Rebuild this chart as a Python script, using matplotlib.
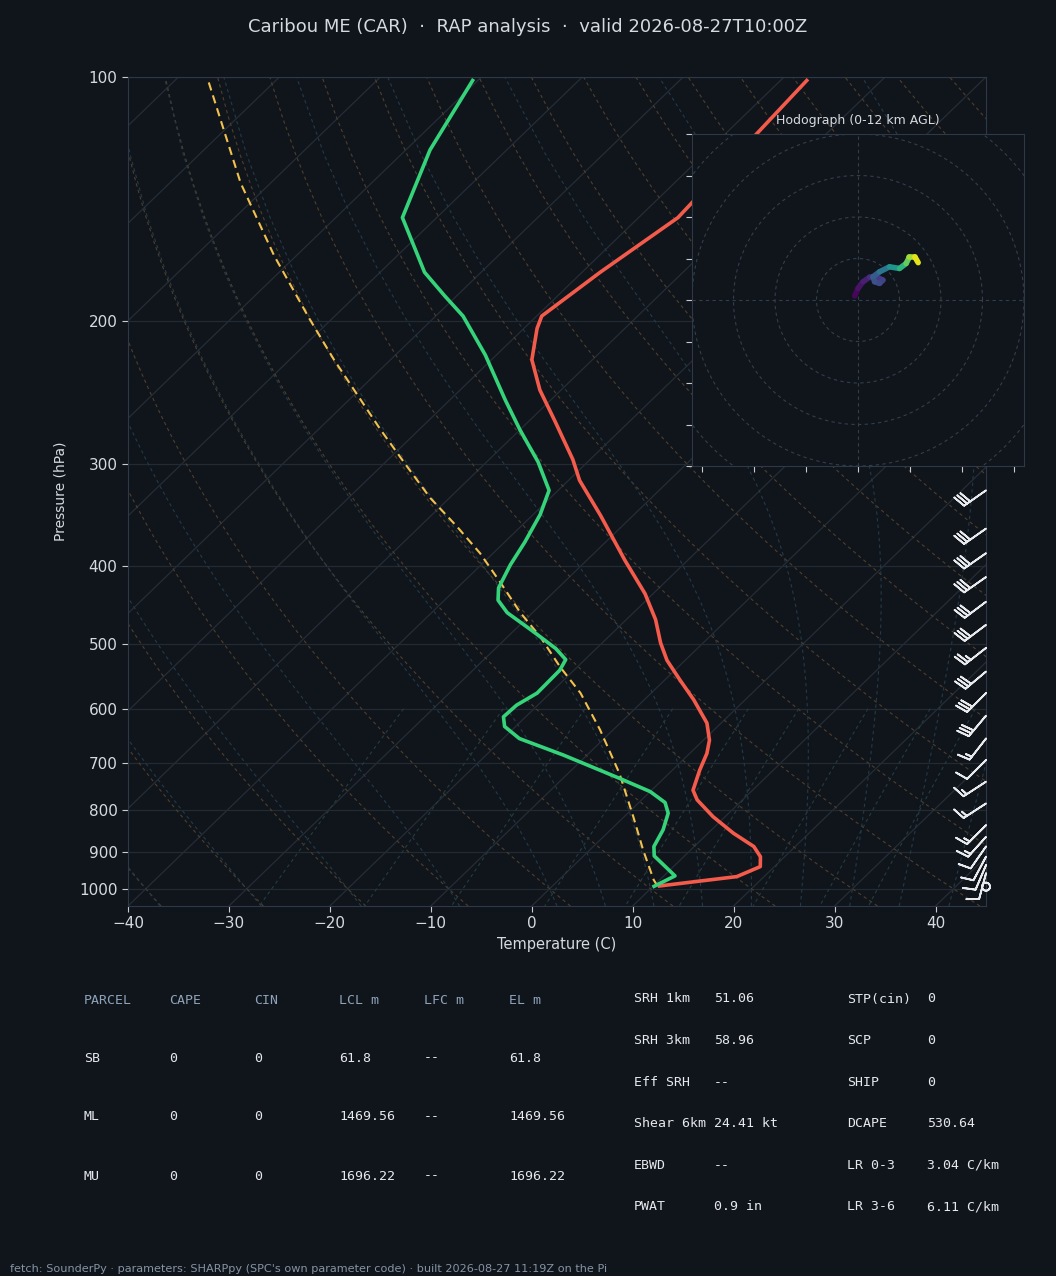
import numpy as np
import matplotlib
matplotlib.use('Agg')
import matplotlib.pyplot as plt
from matplotlib.collections import LineCollection
from matplotlib.ticker import FixedLocator, FixedFormatter, NullFormatter

plt.rcParams['font.family'] = 'DejaVu Sans'

BG = '#10151c'
SPINE = '#2e3946'
TXT = '#d6dae0'
HEAD = '#8ea2b8'

# ---- sounding ----
temp_p = [992, 966, 939, 913, 887, 854, 815, 777, 756, 714, 681, 656, 625, 585, 553,
          523, 498, 466, 433, 394, 347, 314, 296, 265, 243, 223, 204, 197, 174, 149, 101]
temp_c = [10.6, 17.3, 18.6, 17.6, 15.9, 12.5, 8.8, 5.5, 4.1, 2.7, 1.7, 0.6, -1.4, -5.1, -8.5,
          -11.8, -14.2, -17.1, -20.8, -26.2, -33.2, -38.9, -41.7, -47.5, -52.1, -56.0, -58.7,
          -59.5, -58.2, -56.1, -57.4]

dewp_p = [993, 964, 911, 887, 846, 807, 783, 759, 731, 684, 653, 631, 614, 594, 574, 538,
          522, 506, 482, 457, 441, 426, 399, 374, 346, 323, 298, 272, 250, 220, 197, 186,
          174, 149, 123, 101]
dewp_c = [10.1, 11.1, 7.0, 6.0, 5.2, 4.0, 2.6, 0.0, -4.4, -12.4, -18.4, -21.1, -22.2, -22.1,
          -21.3, -21.4, -21.9, -24.0, -28.0, -32.5, -34.7, -35.9, -37.1, -38.0, -39.3, -40.9,
          -44.9, -50.0, -54.5, -61.1, -67.3, -71.2, -75.6, -83.4, -87.6, -90.5]

parcel_p = [992, 975, 896, 815, 721, 637, 574, 533, 489, 457, 420, 386, 358, 330, 300, 272,
            223, 199, 166, 135, 101]
parcel_c = [10.4, 9.4, 5.3, 0.9, -4.9, -11.3, -17.0, -21.7, -26.8, -31.2, -36.2, -41.3,
            -46.3, -51.9, -57.8, -63.8, -75.6, -82.1, -92.2, -103.0, -116.7]

# wind barbs (kt, deg from)
barb_p = [994, 957, 935, 913, 887, 863, 835, 785, 738, 694, 653, 612, 574, 540, 505, 473,
          443, 413, 386, 360, 323, 290, 255]
barb_spd = [0, 10, 10, 10, 10, 15, 15, 15, 15, 10, 15, 30, 30, 30, 25, 30, 30, 30, 30, 30,
            30, 30, 30]
barb_dir = [0, 195, 203, 208, 215, 222, 225, 237, 237, 225, 218, 220, 225, 230, 232, 233,
            233, 235, 235, 235, 235, 240, 240]

# hodograph 0-12 km
hodo_u = [-0.8, 0.0, 1.2, 2.8, 4.4, 6.0, 5.2, 4.0, 3.6, 5.2, 7.6, 10.0, 11.6, 12.4, 13.7, 14.5]
hodo_v = [1.0, 2.8, 4.4, 5.5, 5.6, 4.8, 4.0, 4.4, 5.6, 6.8, 8.0, 7.6, 8.8, 10.4, 10.4, 9.0]
hodo_z = [0.0, 0.4, 0.8, 1.3, 1.8, 2.2, 2.5, 2.8, 3.1, 3.8, 5.5, 7.0, 8.5, 9.8, 11.0, 12.0]

# parameter table
parcel_names = ['SB', 'ML', 'MU']
parcel_cols = ['PARCEL', 'CAPE', 'CIN', 'LCL m', 'LFC m', 'EL m']
parcel_cape = ['0', '0', '0']
parcel_cin = ['0', '0', '0']
parcel_lcl = ['61.8', '1469.56', '1696.22']
parcel_lfc = ['--', '--', '--']
parcel_el = ['61.8', '1469.56', '1696.22']
kin_names = ['SRH 1km', 'SRH 3km', 'Eff SRH', 'Shear 6km', 'EBWD', 'PWAT']
kin_vals = ['51.06', '58.96', '--', '24.41 kt', '--', '0.9 in']
comp_names = ['STP(cin)', 'SCP', 'SHIP', 'DCAPE', 'LR 0-3', 'LR 3-6']
comp_vals = ['0', '0', '0', '530.64', '3.04 C/km', '6.11 C/km']

title = 'Caribou ME (CAR)  \u00b7  RAP analysis  \u00b7  valid 2026-08-27T10:00Z'
footer = ("fetch: SounderPy \u00b7 parameters: SHARPpy (SPC's own parameter code) \u00b7 "
          "built 2026-08-27 11:19Z on the Pi")

P_BOT, P_TOP = 1050.0, 100.0
X_MIN, X_MAX = -40.0, 45.0


def skew(t, p):
    t = np.asarray(t, float)
    p = np.asarray(p, float)
    return t + (X_MAX - X_MIN) * np.log10(P_BOT / p) / np.log10(P_BOT / P_TOP)


def moist_adiabats(t0_c, p_hpa):
    # integrate pseudo-adiabatic lapse rate from 1000 hPa (RK4)
    rd, cp, lv, eps = 287.04, 1005.7, 2.501e6, 0.622

    def dtdp(t, p):
        es = 611.2 * np.exp(17.67 * (t - 273.15) / (t - 29.65))
        rs = eps * es / (p - es)
        return (rd * t + lv * rs) / p / (cp + lv * lv * rs * eps / (rd * t * t))

    out = np.zeros((len(t0_c), len(p_hpa)))
    for j, pt in enumerate(p_hpa):
        t = np.asarray(t0_c, float) + 273.15
        ps = np.linspace(100000.0, pt * 100.0, 60)
        for a, b in zip(ps[:-1], ps[1:]):
            h = b - a
            k1 = dtdp(t, a)
            k2 = dtdp(t + 0.5 * h * k1, a + 0.5 * h)
            k3 = dtdp(t + 0.5 * h * k2, a + 0.5 * h)
            k4 = dtdp(t + h * k3, b)
            t = t + h * (k1 + 2 * k2 + 2 * k3 + k4) / 6.0
        out[:, j] = t - 273.15
    return out


fig = plt.figure(figsize=(10.56, 12.76), dpi=100, facecolor=BG)

ax = fig.add_axes([128 / 1056, 370 / 1276, 858 / 1056, 829 / 1276], facecolor=BG)
ax.set_yscale('log')
ax.set_ylim(P_BOT, P_TOP)
ax.set_xlim(X_MIN, X_MAX)

# background: isotherms, isobars, adiabats, mixing lines
for t in np.arange(-130, 50, 10):
    ax.plot(skew([t, t], [P_BOT, P_TOP]), [P_BOT, P_TOP], color='#262d36', lw=0.9, zorder=1)
for p in range(100, 1001, 100):
    ax.axhline(p, color='#222a33', lw=0.9, zorder=1)

pp = np.linspace(P_BOT, P_TOP, 80)
for t0 in np.arange(-40, 246, 10):
    tt = (t0 + 273.15) * (pp / 1000.0) ** 0.2857 - 273.15
    ax.plot(skew(tt, pp), pp, color='#4f3f2b', lw=0.8, ls=(0, (3, 3)), zorder=1)

moist_t0 = np.concatenate((np.arange(-40, 0, 10), np.arange(0, 46, 5)))
pm = np.linspace(P_BOT, P_TOP, 40)
tm = moist_adiabats(moist_t0, pm)
for row in tm:
    ax.plot(skew(row, pm), pm, color='#243a46', lw=0.8, ls=(0, (3, 3)), zorder=1)

pw = np.linspace(600, P_BOT, 20)
for w in [0.0004, 0.001, 0.002, 0.004, 0.007, 0.01, 0.016, 0.024, 0.032]:
    e = pw * w / (0.622 + w)
    le = np.log(e / 6.112)
    td = 243.5 * le / (17.67 - le)
    ax.plot(skew(td, pw), pw, color='#243d3f', lw=0.8, ls=(0, (3, 3)), zorder=1)

# profiles
ax.plot(skew(parcel_c, parcel_p), parcel_p, color='#f2c14e', lw=1.5, ls=(0, (4, 2.5)), zorder=4)
ax.plot(skew(temp_c, temp_p), temp_p, color='#f45b4b', lw=2.6, zorder=5)
ax.plot(skew(dewp_c, dewp_p), dewp_p, color='#35d47a', lw=2.6, zorder=5)

# barbs on the right edge
spd = np.asarray(barb_spd, float)
rad = np.deg2rad(barb_dir)
bu = -spd * np.sin(rad)
bv = -spd * np.cos(rad)
ax.barbs(np.full(len(barb_p), X_MAX), barb_p, bu, bv, color='#e8eaee', length=6.2,
         linewidth=1.3, sizes=dict(height=0.46, spacing=0.14), clip_on=False, zorder=6)

ax.xaxis.set_major_locator(FixedLocator(np.arange(-40, 41, 10)))
ax.yaxis.set_major_locator(FixedLocator(np.arange(100, 1001, 100)))
ax.yaxis.set_major_formatter(FixedFormatter([str(v) for v in range(100, 1001, 100)]))
ax.yaxis.set_minor_locator(FixedLocator([]))
ax.yaxis.set_minor_formatter(NullFormatter())
ax.tick_params(colors=TXT, labelsize=11, length=4, color='#c8ccd2')
for s in ax.spines.values():
    s.set_color(SPINE)
ax.set_xlabel('Temperature (C)', color=TXT, fontsize=10.5, labelpad=4)
ax.set_ylabel('Pressure (hPa)', color=TXT, fontsize=10, labelpad=8)

# hodograph inset
hx = fig.add_axes([692 / 1056, 810 / 1276, 332 / 1056, 332 / 1276], facecolor=BG)
hx.set_xlim(-40, 40)
hx.set_ylim(-40, 40)
th = np.linspace(0, 2 * np.pi, 200)
for r in range(10, 81, 10):
    hx.plot(r * np.cos(th), r * np.sin(th), color='#333e4a', lw=0.8, ls=(0, (3, 3)), zorder=1)
hx.axhline(0, color='#333e4a', lw=0.8, ls=(0, (3, 3)), zorder=1)
hx.axvline(0, color='#333e4a', lw=0.8, ls=(0, (3, 3)), zorder=1)
pts = np.column_stack([hodo_u, hodo_v]).reshape(-1, 1, 2)
segs = np.concatenate([pts[:-1], pts[1:]], axis=1)
zmid = 0.5 * (np.asarray(hodo_z[:-1]) + np.asarray(hodo_z[1:]))
lc = LineCollection(segs, cmap='viridis', linewidths=4, capstyle='round', zorder=3)
lc.set_array(zmid)
lc.set_clim(0, 12)
hx.add_collection(lc)
hx.xaxis.set_major_locator(FixedLocator(np.arange(-37.5, 38, 12.5)))
hx.yaxis.set_major_locator(FixedLocator(np.arange(-40, 41, 10)))
hx.xaxis.set_major_formatter(NullFormatter())
hx.yaxis.set_major_formatter(NullFormatter())
hx.tick_params(color='#c8ccd2', length=4)
for s in hx.spines.values():
    s.set_color(SPINE)
hx.set_title('Hodograph (0-12 km AGL)', color=TXT, fontsize=9, pad=7)

# texts
fig.text(0.5, 1 - 27 / 1276, title, ha='center', va='center', color=TXT, fontsize=13)


def px(x, y, s, color, size=9.5, family='DejaVu Sans Mono'):
    fig.text(x / 1056, 1 - y / 1276, s, ha='left', va='center', color=color,
             fontsize=size, family=family)


col_x = [84, 169, 254, 339, 424, 509]
for x, h in zip(col_x, parcel_cols):
    px(x, 1000, h, HEAD)
rows = list(zip(parcel_names, parcel_cape, parcel_cin, parcel_lcl, parcel_lfc, parcel_el))
for i, row in enumerate(rows):
    for x, s in zip(col_x, row):
        px(x, 1058 + i * 59, s, '#e6e8ec')

for i in range(len(kin_names)):
    y = 999 + i * 41.6
    px(634, y, kin_names[i], '#e6e8ec')
    px(714, y, kin_vals[i], '#e6e8ec')
    px(847, y, comp_names[i], '#e6e8ec')
    px(927, y, comp_vals[i], '#e6e8ec')

px(10, 1269, footer, '#8793a3', size=8.15, family='DejaVu Sans')

fig.savefig('out.png', dpi=100, facecolor=BG)
